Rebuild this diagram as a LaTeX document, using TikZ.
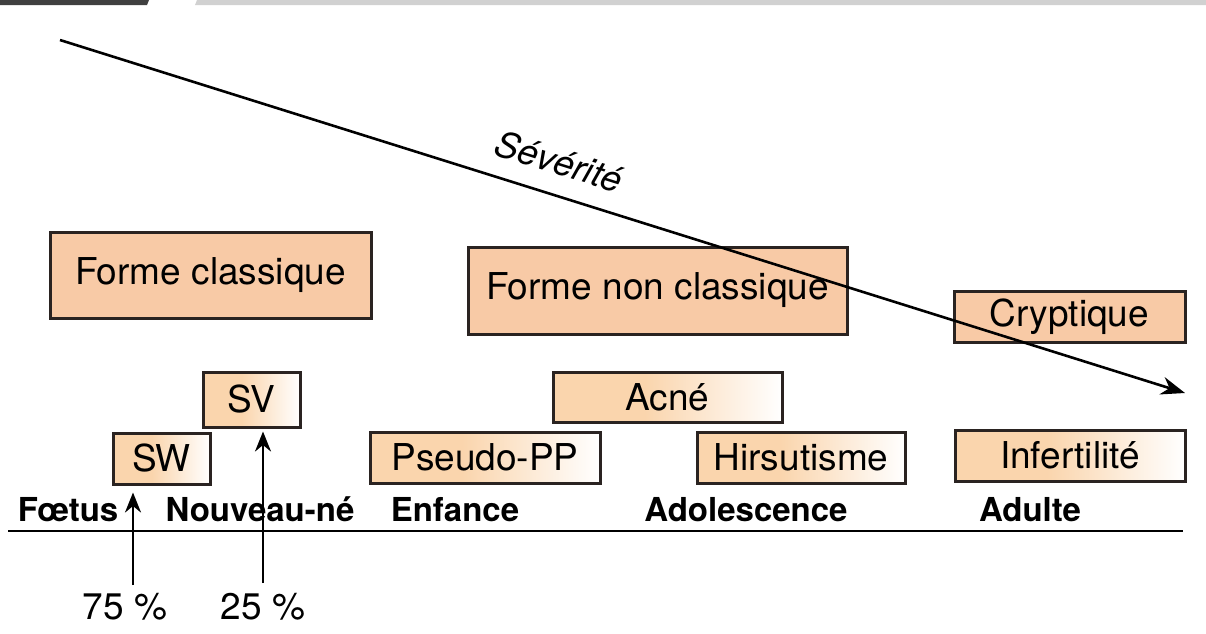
\documentclass[tikz,border=0pt]{standalone}
\usepackage{fontspec}
\setmainfont{TeX Gyre Heros}
\usetikzlibrary{arrows.meta}

\definecolor{peach}{HTML}{F8CAA6}
\definecolor{lightpeach}{HTML}{FAD5AD}
\definecolor{boxline}{HTML}{2A2321}

% fond des petites boites : peche a gauche, blanc a droite
\pgfdeclarehorizontalshading{signfade}{100bp}{color(0bp)=(lightpeach); color(25bp)=(lightpeach);
  color(45bp)=(lightpeach); color(75bp)=(white); color(100bp)=(white)}

\tikzset{
  formbox/.style={draw=boxline, line width=3pt, fill=peach, inner sep=0pt,
    font=\fontsize{37}{40}\selectfont},
  signbox/.style={draw=boxline, line width=3pt, shading=signfade, inner sep=0pt,
    font=\fontsize{37}{40}\selectfont},
  agelabel/.style={anchor=base, inner sep=0pt, font=\bfseries\fontsize{33}{36}\selectfont},
  pct/.style={anchor=base, inner sep=0pt, font=\fontsize{37}{40}\selectfont},
  uparrow/.style={line width=2.7pt, -{Stealth[length=20pt,width=16pt]}},
}

\begin{document}
\begin{tikzpicture}[x=1pt,y=-1pt]
  \useasboundingbox (0,0) rectangle (1206,633);

  % bandeau du haut
  \fill[black!75] (0,0) -- (149,0) -- (147,5) -- (0,5) -- cycle;
  \fill[black!18] (197,0) -- (1206,0) -- (1206,5) -- (195,5) -- cycle;

  % formes
  \node[formbox, minimum width=321, minimum height=86] (classique) at (210.5,275) {Forme classique};
  \node[formbox, minimum width=379, minimum height=87] (nonclassique) at (657.5,290.5) {Forme non classique};
  \node[formbox, minimum width=231, minimum height=51] (cryptique) at (1069.5,316.5) {Cryptique};

  % signes
  \node[signbox, minimum width=97, minimum height=55] (sv) at (251.5,399.5) {SV};
  \node[signbox, minimum width=97, minimum height=51] (sw) at (161.5,458.5) {SW};
  \node[signbox, minimum width=230, minimum height=51] (pseudopp) at (485,457.5) {Pseudo-PP};
  \node[signbox, minimum width=229, minimum height=50] (acne) at (667.5,397) {Acné};
  \node[signbox, minimum width=208, minimum height=51] (hirsutisme) at (801,457.5) {Hirsutisme};
  \node[signbox, minimum width=230, minimum height=51] (infertilite) at (1070,455.5) {Infertilité};

  % severite
  \coordinate (sevstart) at (60,40);
  \coordinate (sevend) at (1185,393);
  \draw[line width=2.6pt, -{Stealth[length=24pt,width=18pt]}] (sevstart) -- (sevend);
  \node[rotate=-17.4, font=\itshape\fontsize{36}{40}\selectfont] (sev) at (559,161) {Sévérité};

  % axe des ages
  \coordinate (axisleft) at (8,531);
  \coordinate (axisright) at (1183,531);
  \draw[line width=2.7pt] (axisleft) -- (axisright);
  \node[agelabel] (foetus) at (68,521) {Fœtus};
  \node[agelabel] (nouveaune) at (260,521) {Nouveau-né};
  \node[agelabel] (enfance) at (455,521) {Enfance};
  \node[agelabel] (adolescence) at (746,521) {Adolescence};
  \node[agelabel] (adulte) at (1030,521) {Adulte};

  % frequences
  \node[pct] (p75) at (125,619) {75 \%};
  \node[pct] (p25) at (263,619) {25 \%};
  \coordinate (a75) at (133,585);
  \coordinate (a25) at (263,583);
  \draw[uparrow, shorten >=7pt] (a75) -- (a75 |- sw.south);
  \draw[uparrow, shorten >=3pt] (a25) -- (a25 |- sv.south);
\end{tikzpicture}
\end{document}
